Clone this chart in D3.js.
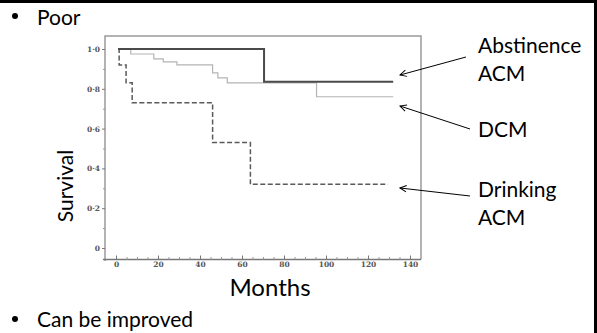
<!DOCTYPE html>
<meta charset="utf-8">
<style>
  body { margin: 0; background: #fff; }
  text { font-family: Lato, "Liberation Sans", sans-serif; fill: #000; }
  .tick text { font: bold 7.5px "DejaVu Serif", serif; fill: #555; }
</style>
<body>
<script src="https://d3js.org/d3.v7.min.js"></script>
<script>

  // survival curves (month, survival after that month)
  var abstinenceMonths = [1, 70.5, 132],
      abstinenceSurv = [1.0, 0.835, 0.835];

  var dcmMonths = [1, 7, 18, 22.5, 29, 46, 48.5, 53, 95.5, 132],
      dcmSurv = [1.0, 0.975, 0.95, 0.935, 0.92, 0.88, 0.855, 0.83, 0.76, 0.76];

  var drinkingMonths = [1, 1.5, 4.8, 7.7, 46, 64, 129.5],
      drinkingSurv = [1.0, 0.92, 0.83, 0.73, 0.53, 0.32, 0.32];

  var yTicks = [0, 0.2, 0.4, 0.6, 0.8, 1.0],
      yTickLabels = ["0", "0·2", "0·4", "0·6", "0·8", "1·0"],
      xTicks = [0, 20, 40, 60, 80, 100, 120, 140];

  var width = 597, height = 333;

  var svg = d3.select("body").append("svg")
      .attr("width", width)
      .attr("height", height);

  // slide frame
  svg.append("rect").attr("x", 0).attr("y", 0).attr("width", width).attr("height", 3).attr("fill", "#000");
  svg.append("rect").attr("x", 594).attr("y", 0).attr("width", 3).attr("height", height).attr("fill", "#000");

  var x = d3.scaleLinear().domain([0, 140]).range([116, 410]);
  var y = d3.scaleLinear().domain([0, 1]).range([248, 49]);

  var plot = svg.append("g");

  // plot box
  plot.append("path")
      .attr("d", "M105,261V36H421V259.5")
      .attr("fill", "none")
      .attr("stroke", "#9a9a9a")
      .attr("stroke-width", 1.5);

  // y axis (ticks outward, minor ticks every 0.1)
  var yAxis = plot.append("g")
      .attr("class", "y-axis")
      .attr("transform", "translate(105,0)")
      .call(d3.axisLeft(y).tickValues(yTicks).tickSize(3).tickSizeOuter(0)
          .tickFormat(function(d, i) { return yTickLabels[i]; }));
  yAxis.select(".domain").remove();
  yAxis.selectAll(".tick line").attr("stroke", "#777");
  yAxis.selectAll(".tick text").attr("x", -5);
  plot.append("g")
      .attr("transform", "translate(105,0)")
      .call(d3.axisLeft(y).tickValues(d3.range(0.1, 1, 0.2)).tickSize(2).tickFormat(""))
      .call(function(g) { g.select(".domain").remove(); g.selectAll("line").attr("stroke", "#999"); });

  // x axis (ticks inward)
  var xAxis = plot.append("g")
      .attr("class", "x-axis")
      .attr("transform", "translate(0,259.5)")
      .call(d3.axisBottom(x).tickValues(xTicks).tickSize(-4).tickSizeOuter(0).tickPadding(2));
  xAxis.select(".domain").attr("d", "M103,0H421").attr("stroke", "#777").attr("stroke-width", 1.5);
  xAxis.selectAll(".tick line").attr("stroke", "#777");
  plot.append("g")
      .attr("transform", "translate(0,259.5)")
      .call(d3.axisBottom(x).tickValues(d3.range(5, 140, 5).filter(function(d) { return d % 20; }))
          .tickSize(-2.5).tickFormat(""))
      .call(function(g) { g.select(".domain").remove(); g.selectAll("line").attr("stroke", "#999"); });

  function pts(ms, ss) { return ms.map(function(m, i) { return [m, ss[i]]; }); }

  var line = d3.line()
      .x(function(d) { return x(d[0]); })
      .y(function(d) { return y(d[1]); })
      .curve(d3.curveStepAfter);

  plot.append("path")
      .datum(pts(dcmMonths, dcmSurv))
      .attr("d", line)
      .attr("fill", "none")
      .attr("stroke", "#b4b4b4")
      .attr("stroke-width", 1.2);

  plot.append("path")
      .datum(pts(drinkingMonths, drinkingSurv))
      .attr("d", line)
      .attr("fill", "none")
      .attr("stroke", "#5a5a5a")
      .attr("stroke-width", 1.5)
      .attr("stroke-dasharray", "5,2.5");

  plot.append("path")
      .datum(pts(abstinenceMonths, abstinenceSurv))
      .attr("d", line)
      .attr("fill", "none")
      .attr("stroke", "#4a4a4a")
      .attr("stroke-width", 2);

  // axis titles
  svg.append("text")
      .attr("transform", "translate(73,186) rotate(-90)")
      .attr("text-anchor", "middle")
      .style("font-size", "21px")
      .text("Survival");

  svg.append("text")
      .attr("x", 270).attr("y", 296)
      .attr("text-anchor", "middle")
      .style("font-size", "24px")
      .text("Months");

  // bullets
  svg.append("circle").attr("cx", 15).attr("cy", 16).attr("r", 3).attr("fill", "#000");
  svg.append("text").attr("x", 37).attr("y", 25).style("font-size", "21px").text("Poor");
  svg.append("circle").attr("cx", 15).attr("cy", 319).attr("r", 3).attr("fill", "#000");
  svg.append("text").attr("x", 37).attr("y", 327).style("font-size", "21px").text("Can be improved");

  // labels and arrows
  var labels = [
    { lines: ["Abstinence", "ACM"], y: 53, from: [466, 57], to: [400, 75] },
    { lines: ["DCM"], y: 137, from: [470, 129], to: [400, 106] },
    { lines: ["Drinking", "ACM"], y: 197, from: [470, 196], to: [400, 188] }
  ];

  svg.append("defs").append("marker")
      .attr("id", "arr")
      .attr("viewBox", "0 0 10 10")
      .attr("refX", 1).attr("refY", 5)
      .attr("markerWidth", 8).attr("markerHeight", 8)
      .attr("markerUnits", "userSpaceOnUse")
      .attr("orient", "auto")
      .append("path")
      .attr("d", "M9,1L1,5L9,9")
      .attr("fill", "none")
      .attr("stroke", "#000")
      .attr("stroke-width", 1.2);

  labels.forEach(function(l) {
    l.lines.forEach(function(t, i) {
      svg.append("text")
          .attr("x", 478).attr("y", l.y + i * 28)
          .style("font-size", "21px")
          .text(t);
    });
    svg.append("line")
        .attr("x1", l.to[0]).attr("y1", l.to[1])
        .attr("x2", l.from[0]).attr("y2", l.from[1])
        .attr("stroke", "#000")
        .attr("stroke-width", 1)
        .attr("marker-start", "url(#arr)");
  });

</script>
